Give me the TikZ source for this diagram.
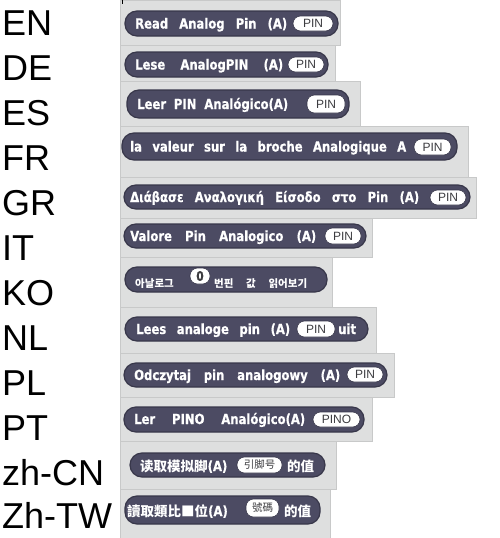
\documentclass[tikz,border=0pt]{standalone}
\usepackage{fontspec}
\setmainfont{DejaVu Sans}
\newfontfamily\blockfont{DejaVu Sans}[FakeStretch=0.83, BoldFeatures={FakeBold=0.6}]
\newfontfamily\labelfont{Liberation Sans}
\newfontfamily\hansfont{Noto Sans CJK SC}
\newfontfamily\hantfont{Noto Sans CJK TC}
\newfontfamily\hangulfont{Noto Sans CJK KR}
\newlength{\du}
\setlength{\du}{1pt}
\newcommand{\spread}[2]{\hbox to #1\du{\spaceskip=1pt plus 1fil\relax #2}}

\begin{document}
\begin{tikzpicture}[
  panel/.style={fill=panelgrey, draw=paneledge, line width=0.8\du},
  block/.style={fill=blockfill, draw=blockedge, line width=1.2\du, rounded corners=12\du},
  slot/.style={fill=white, draw=blockedge, line width=0.6\du, rounded corners=7.5\du},
  blocktext/.style={anchor=base west, inner sep=0pt, text=white, font=\blockfont\fontsize{14}{16}\selectfont\bfseries},
  slottext/.style={inner sep=0pt, text=slotink, font=\labelfont\fontsize{12}{14}\selectfont},
  langlabel/.style={anchor=base west, inner sep=0pt, font=\labelfont\fontsize{36}{40}\selectfont}
]
\pgftransformxscale{1.000000}
\pgftransformyscale{-1.000000}
\definecolor{panelgrey}{RGB}{222,223,223}
\definecolor{paneledge}{RGB}{200,201,201}
\definecolor{blockfill}{RGB}{76,75,99}
\definecolor{blockedge}{RGB}{56,55,74}
\definecolor{slotink}{RGB}{60,60,64}
\useasboundingbox (0\du,0\du) rectangle (500\du,538\du);
% screenshot panels
\draw[panel] (120\du,0\du) rectangle (340\du,45\du);
\draw[panel] (120\du,45\du) rectangle (335\du,81\du);
\draw[panel] (120\du,81\du) rectangle (360\du,126\du);
\draw[panel] (120\du,126\du) rectangle (468\du,177\du);
\draw[panel] (120\du,177\du) rectangle (476\du,218\du);
\draw[panel] (120\du,218\du) rectangle (372\du,257\du);
\draw[panel] (120\du,257\du) rectangle (332\du,307\du);
\draw[panel] (120\du,307\du) rectangle (376\du,353\du);
\draw[panel] (120\du,353\du) rectangle (394\du,397\du);
\draw[panel] (120\du,397\du) rectangle (372\du,441\du);
\draw[panel] (120\du,441\du) rectangle (336\du,489\du);
\draw[panel] (120\du,489\du) rectangle (330\du,538\du);
\draw[black, line width=1\du] (122\du,0\du) -- (122\du,4\du);
% EN
\node[langlabel] (en) at (2\du,35\du) {EN};
\draw[block] (125\du,11\du) rectangle (338\du,36\du);
\node[blocktext] (entext) at (135\du,28.5\du) {\spread{152}{Read Analog Pin (A)}};
\draw[slot] (293\du,16\du) rectangle (333\du,31\du);
\node[slottext] (enpin) at (313\du,23.5\du) {PIN};
% DE
\node[langlabel] (de) at (2\du,80\du) {DE};
\draw[block] (125\du,52\du) rectangle (328\du,77\du);
\node[blocktext] (detext) at (135\du,69.5\du) {\spread{148}{Lese AnalogPIN (A)}};
\draw[slot] (288\du,57\du) rectangle (324\du,72\du);
\node[slottext] (depin) at (306\du,64.5\du) {PIN};
% ES
\node[langlabel] (es) at (2\du,125\du) {ES};
\draw[block] (127\du,90\du) rectangle (349\du,118\du);
\node[blocktext] (estext) at (137\du,109\du) {\spread{151}{Leer PIN Analógico(A)}};
\draw[slot] (307\du,95\du) rectangle (345\du,113\du);
\node[slottext] (espin) at (326\du,104\du) {PIN};
% FR
\node[langlabel] (fr) at (2\du,170\du) {FR};
\draw[block] (122\du,133\du) rectangle (457\du,160\du);
\node[blocktext] (frtext) at (130\du,151.5\du) {\spread{276}{la valeur sur la broche Analogique A}};
\draw[slot] (414\du,139\du) rectangle (451\du,155\du);
\node[slottext] (frpin) at (432.5\du,147\du) {PIN};
% GR
\node[langlabel] (gr) at (2\du,215\du) {GR};
\draw[block] (124\du,185\du) rectangle (470\du,209\du);
\node[blocktext] (grtext) at (130\du,202\du) {\spread{289}{Διάβασε Αναλογική Είσοδο στο Pin (A)}};
\draw[slot] (430\du,190\du) rectangle (466\du,205\du);
\node[slottext] (grpin) at (448\du,197.5\du) {PIN};
% IT
\node[langlabel] (it) at (2\du,260\du) {IT};
\draw[block] (124\du,224\du) rectangle (366\du,248\du);
\node[blocktext] (ittext) at (130\du,241\du) {\spread{186}{Valore Pin Analogico (A)}};
\draw[slot] (325\du,228\du) rectangle (361\du,244\du);
\node[slottext] (itpin) at (343\du,236\du) {PIN};
% KO
\node[langlabel] (ko) at (2\du,305\du) {KO};
\draw[block] (125\du,267\du) rectangle (327\du,292\du);
\node[blocktext] (kotext) at (135\du,287\du) {\hangulfont\fontsize{10.5}{12}\selectfont 아날로그};
\draw[slot] (190\du,268\du) rectangle (210\du,284\du);
\node[slottext, font=\blockfont\fontsize{13}{15}\selectfont\bfseries] (kopin) at (200\du,276\du) {0};
\node[blocktext] (kotail) at (214\du,287\du) {\hangulfont\fontsize{10.5}{12}\selectfont\spread{93}{번핀 값 읽어보기}};
% NL
\node[langlabel] (nl) at (2\du,350\du) {NL};
\draw[block] (125\du,317\du) rectangle (368\du,341\du);
\node[blocktext] (nltext) at (136\du,334\du) {\spread{154}{Lees analoge pin (A)}};
\draw[slot] (297\du,321\du) rectangle (335\du,337\du);
\node[slottext] (nlpin) at (316\du,329\du) {PIN};
\node[blocktext] (nltail) at (338\du,334\du) {uit};
% PL
\node[langlabel] (pl) at (2\du,395\du) {PL};
\draw[block] (124\du,363\du) rectangle (387\du,387\du);
\node[blocktext] (pltext) at (134\du,380\du) {\spread{206}{Odczytaj pin analogowy (A)}};
\draw[slot] (347\du,367\du) rectangle (383\du,382\du);
\node[slottext] (plpin) at (365\du,374.5\du) {PIN};
% PT
\node[langlabel] (pt) at (2\du,440\du) {PT};
\draw[block] (124\du,407\du) rectangle (364\du,432\du);
\node[blocktext] (pttext) at (134\du,424\du) {\spread{171}{Ler PINO Analógico(A)}};
\draw[slot] (313\du,412\du) rectangle (360\du,427\du);
\node[slottext] (ptpin) at (336.5\du,419.5\du) {PINO};
% zh-CN
\node[langlabel] (zhcn) at (2\du,485\du) {zh-CN};
\draw[block] (130\du,453\du) rectangle (325\du,477\du);
\node[blocktext] (zhcntext) at (140\du,471\du) {{\hansfont\fontsize{13.5}{15}\selectfont 读取模拟脚}(A)};
\draw[slot] (237\du,457\du) rectangle (282\du,473\du);
\node[slottext] (zhcnpin) at (259.5\du,465\du) {\hansfont\fontsize{10.5}{12}\selectfont 引脚号};
\node[blocktext] (zhcntail) at (287\du,471\du) {\hansfont\fontsize{13.5}{15}\selectfont 的值};
% zh-TW
\node[langlabel] (zhtw) at (2\du,528\du) {Zh-TW};
\draw[block] (125\du,496\du) rectangle (320\du,524\du);
\node[blocktext] (zhtwtext) at (127\du,516\du) {{\hantfont\fontsize{13.5}{15}\selectfont 讀取類比■位}(A)};
\draw[slot] (246\du,499\du) rectangle (279\du,517\du);
\node[slottext] (zhtwpin) at (262.5\du,508\du) {\hantfont\fontsize{10.5}{12}\selectfont 號碼};
\node[blocktext] (zhtwtail) at (284\du,516\du) {\hantfont\fontsize{13.5}{15}\selectfont 的值};
\end{tikzpicture}
\end{document}
